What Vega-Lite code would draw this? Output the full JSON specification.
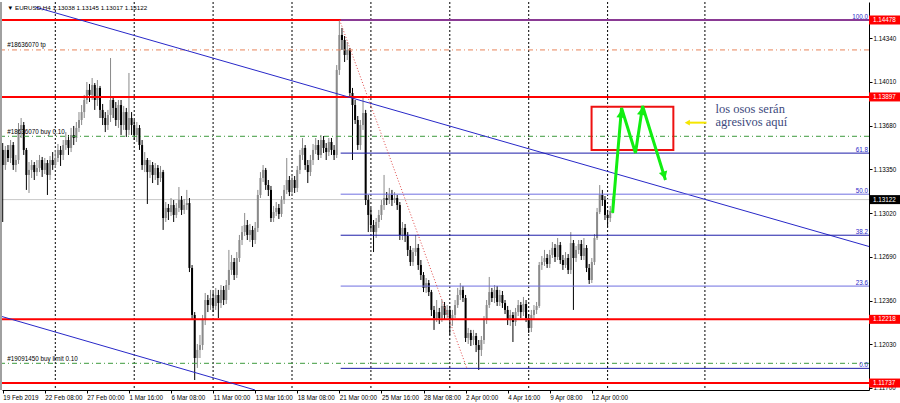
{
  "$schema": "https://vega.github.io/schema/vega-lite/v6.json",
  "width": 867,
  "height": 388,
  "autosize": {"type": "none"},
  "padding": {"left": 2, "top": 2, "right": 31, "bottom": 13},
  "background": "#ffffff",
  "config": {"view": {"stroke": null}, "font": "Liberation Sans", "axis": {"grid": false, "title": null}, "scale": {"continuousPadding": 0}},
  "datasets": {
    "candles": [
{"i":0,"o":1.13497,"h":1.13549,"l":1.12953,"c":1.13383},
{"i":1,"o":1.13383,"h":1.13527,"l":1.13346,"c":1.13497},
{"i":2,"o":1.13497,"h":1.13534,"l":1.13406,"c":1.13436},
{"i":3,"o":1.13436,"h":1.13572,"l":1.13398,"c":1.13534},
{"i":4,"o":1.13534,"h":1.13557,"l":1.13346,"c":1.13383},
{"i":5,"o":1.13383,"h":1.13459,"l":1.13330,"c":1.13421},
{"i":6,"o":1.13421,"h":1.13700,"l":1.13391,"c":1.13648},
{"i":7,"o":1.13648,"h":1.13738,"l":1.13587,"c":1.13685},
{"i":8,"o":1.13685,"h":1.13708,"l":1.13459,"c":1.13497},
{"i":9,"o":1.13497,"h":1.13512,"l":1.13195,"c":1.13308},
{"i":10,"o":1.13308,"h":1.13406,"l":1.13172,"c":1.13346},
{"i":11,"o":1.13346,"h":1.13421,"l":1.13285,"c":1.13383},
{"i":12,"o":1.13383,"h":1.13406,"l":1.13270,"c":1.13330},
{"i":13,"o":1.13330,"h":1.13421,"l":1.13300,"c":1.13361},
{"i":14,"o":1.13361,"h":1.13459,"l":1.13330,"c":1.13421},
{"i":15,"o":1.13421,"h":1.13444,"l":1.13293,"c":1.13346},
{"i":16,"o":1.13346,"h":1.13436,"l":1.13315,"c":1.13398},
{"i":17,"o":1.13398,"h":1.13421,"l":1.13157,"c":1.13308},
{"i":18,"o":1.13308,"h":1.13451,"l":1.13270,"c":1.13421},
{"i":19,"o":1.13421,"h":1.13481,"l":1.13346,"c":1.13383},
{"i":20,"o":1.13383,"h":1.13497,"l":1.13361,"c":1.13436},
{"i":21,"o":1.13436,"h":1.13542,"l":1.13406,"c":1.13497},
{"i":22,"o":1.13497,"h":1.13527,"l":1.13376,"c":1.13459},
{"i":23,"o":1.13459,"h":1.13572,"l":1.13421,"c":1.13534},
{"i":24,"o":1.13534,"h":1.13632,"l":1.13497,"c":1.13572},
{"i":25,"o":1.13572,"h":1.13610,"l":1.13459,"c":1.13512},
{"i":26,"o":1.13512,"h":1.13663,"l":1.13481,"c":1.13610},
{"i":27,"o":1.13610,"h":1.13678,"l":1.13534,"c":1.13587},
{"i":28,"o":1.13587,"h":1.13708,"l":1.13557,"c":1.13663},
{"i":29,"o":1.13663,"h":1.13783,"l":1.13632,"c":1.13723},
{"i":30,"o":1.13723,"h":1.13836,"l":1.13685,"c":1.13783},
{"i":31,"o":1.13783,"h":1.13912,"l":1.13738,"c":1.13874},
{"i":32,"o":1.13874,"h":1.14010,"l":1.13844,"c":1.13950},
{"i":33,"o":1.13950,"h":1.13995,"l":1.13859,"c":1.13912},
{"i":34,"o":1.13912,"h":1.14040,"l":1.13874,"c":1.13987},
{"i":35,"o":1.13987,"h":1.14002,"l":1.13799,"c":1.13874},
{"i":36,"o":1.13874,"h":1.14025,"l":1.13829,"c":1.13965},
{"i":37,"o":1.13965,"h":1.13980,"l":1.13738,"c":1.13799},
{"i":38,"o":1.13799,"h":1.13844,"l":1.13685,"c":1.13738},
{"i":39,"o":1.13738,"h":1.13783,"l":1.13632,"c":1.13685},
{"i":40,"o":1.13685,"h":1.13799,"l":1.13648,"c":1.13761},
{"i":41,"o":1.13761,"h":1.14191,"l":1.13708,"c":1.13874},
{"i":42,"o":1.13874,"h":1.13904,"l":1.13738,"c":1.13814},
{"i":43,"o":1.13814,"h":1.13859,"l":1.13678,"c":1.13723},
{"i":44,"o":1.13723,"h":1.13874,"l":1.13663,"c":1.13836},
{"i":45,"o":1.13836,"h":1.13874,"l":1.13610,"c":1.13685},
{"i":46,"o":1.13685,"h":1.13829,"l":1.13648,"c":1.13783},
{"i":47,"o":1.13783,"h":1.13814,"l":1.13595,"c":1.13648},
{"i":48,"o":1.13648,"h":1.14078,"l":1.13610,"c":1.13738},
{"i":49,"o":1.13738,"h":1.13783,"l":1.13610,"c":1.13685},
{"i":50,"o":1.13685,"h":1.13723,"l":1.13572,"c":1.13610},
{"i":51,"o":1.13610,"h":1.13708,"l":1.13557,"c":1.13663},
{"i":52,"o":1.13663,"h":1.13685,"l":1.13497,"c":1.13534},
{"i":53,"o":1.13534,"h":1.13572,"l":1.13346,"c":1.13383},
{"i":54,"o":1.13383,"h":1.13481,"l":1.13330,"c":1.13421},
{"i":55,"o":1.13421,"h":1.13436,"l":1.13089,"c":1.13330},
{"i":56,"o":1.13330,"h":1.13421,"l":1.13285,"c":1.13383},
{"i":57,"o":1.13383,"h":1.13406,"l":1.13247,"c":1.13308},
{"i":58,"o":1.13308,"h":1.13398,"l":1.13270,"c":1.13361},
{"i":59,"o":1.13361,"h":1.13383,"l":1.13232,"c":1.13285},
{"i":60,"o":1.13285,"h":1.13376,"l":1.13255,"c":1.13330},
{"i":61,"o":1.13330,"h":1.13346,"l":1.12893,"c":1.12983},
{"i":62,"o":1.12983,"h":1.13104,"l":1.12953,"c":1.13059},
{"i":63,"o":1.13059,"h":1.13089,"l":1.12968,"c":1.13028},
{"i":64,"o":1.13028,"h":1.13134,"l":1.12998,"c":1.13081},
{"i":65,"o":1.13081,"h":1.13119,"l":1.12953,"c":1.13006},
{"i":66,"o":1.13006,"h":1.13096,"l":1.12983,"c":1.13059},
{"i":67,"o":1.13059,"h":1.13217,"l":1.13028,"c":1.13119},
{"i":68,"o":1.13119,"h":1.13149,"l":1.13006,"c":1.13044},
{"i":69,"o":1.13044,"h":1.13127,"l":1.13013,"c":1.13081},
{"i":70,"o":1.13081,"h":1.13195,"l":1.13044,"c":1.13096},
{"i":71,"o":1.13096,"h":1.13134,"l":1.12575,"c":1.12606},
{"i":72,"o":1.12606,"h":1.12628,"l":1.12213,"c":1.12251},
{"i":73,"o":1.12251,"h":1.12273,"l":1.11760,"c":1.11926},
{"i":74,"o":1.11926,"h":1.12032,"l":1.11851,"c":1.11987},
{"i":75,"o":1.11987,"h":1.12100,"l":1.11926,"c":1.12024},
{"i":76,"o":1.12024,"h":1.12251,"l":1.11987,"c":1.12213},
{"i":77,"o":1.12213,"h":1.12417,"l":1.12175,"c":1.12364},
{"i":78,"o":1.12364,"h":1.12402,"l":1.12273,"c":1.12326},
{"i":79,"o":1.12326,"h":1.12440,"l":1.12289,"c":1.12379},
{"i":80,"o":1.12379,"h":1.12424,"l":1.12273,"c":1.12319},
{"i":81,"o":1.12319,"h":1.12455,"l":1.12289,"c":1.12402},
{"i":82,"o":1.12402,"h":1.12440,"l":1.12228,"c":1.12341},
{"i":83,"o":1.12341,"h":1.12477,"l":1.12304,"c":1.12440},
{"i":84,"o":1.12440,"h":1.12470,"l":1.12326,"c":1.12364},
{"i":85,"o":1.12364,"h":1.12515,"l":1.12334,"c":1.12477},
{"i":86,"o":1.12477,"h":1.12742,"l":1.12440,"c":1.12591},
{"i":87,"o":1.12591,"h":1.12704,"l":1.12553,"c":1.12651},
{"i":88,"o":1.12651,"h":1.12681,"l":1.12515,"c":1.12553},
{"i":89,"o":1.12553,"h":1.12726,"l":1.12530,"c":1.12681},
{"i":90,"o":1.12681,"h":1.12855,"l":1.12651,"c":1.12817},
{"i":91,"o":1.12817,"h":1.12923,"l":1.12779,"c":1.12877},
{"i":92,"o":1.12877,"h":1.13021,"l":1.12847,"c":1.12930},
{"i":93,"o":1.12930,"h":1.12968,"l":1.12817,"c":1.12855},
{"i":94,"o":1.12855,"h":1.12938,"l":1.12802,"c":1.12893},
{"i":95,"o":1.12893,"h":1.12923,"l":1.12764,"c":1.12817},
{"i":96,"o":1.12817,"h":1.12953,"l":1.12787,"c":1.12908},
{"i":97,"o":1.12908,"h":1.13195,"l":1.12877,"c":1.13157},
{"i":98,"o":1.13157,"h":1.13330,"l":1.13134,"c":1.13285},
{"i":99,"o":1.13285,"h":1.13383,"l":1.13255,"c":1.13346},
{"i":100,"o":1.13346,"h":1.13361,"l":1.13195,"c":1.13232},
{"i":101,"o":1.13232,"h":1.13270,"l":1.13149,"c":1.13195},
{"i":102,"o":1.13195,"h":1.13225,"l":1.12953,"c":1.12983},
{"i":103,"o":1.12983,"h":1.13074,"l":1.12953,"c":1.13028},
{"i":104,"o":1.13028,"h":1.13104,"l":1.12998,"c":1.13059},
{"i":105,"o":1.13059,"h":1.13089,"l":1.12976,"c":1.13013},
{"i":106,"o":1.13013,"h":1.13149,"l":1.12991,"c":1.13119},
{"i":107,"o":1.13119,"h":1.13232,"l":1.13089,"c":1.13195},
{"i":108,"o":1.13195,"h":1.13436,"l":1.13164,"c":1.13270},
{"i":109,"o":1.13270,"h":1.13300,"l":1.13149,"c":1.13179},
{"i":110,"o":1.13179,"h":1.13308,"l":1.13149,"c":1.13270},
{"i":111,"o":1.13270,"h":1.13300,"l":1.13172,"c":1.13210},
{"i":112,"o":1.13210,"h":1.13376,"l":1.13179,"c":1.13346},
{"i":113,"o":1.13346,"h":1.13497,"l":1.13315,"c":1.13459},
{"i":114,"o":1.13459,"h":1.13587,"l":1.13421,"c":1.13512},
{"i":115,"o":1.13512,"h":1.13534,"l":1.13346,"c":1.13383},
{"i":116,"o":1.13383,"h":1.13421,"l":1.13247,"c":1.13330},
{"i":117,"o":1.13330,"h":1.13459,"l":1.13300,"c":1.13421},
{"i":118,"o":1.13421,"h":1.13542,"l":1.13383,"c":1.13497},
{"i":119,"o":1.13497,"h":1.13587,"l":1.13466,"c":1.13534},
{"i":120,"o":1.13534,"h":1.13572,"l":1.13421,"c":1.13459},
{"i":121,"o":1.13459,"h":1.13610,"l":1.13436,"c":1.13572},
{"i":122,"o":1.13572,"h":1.13602,"l":1.13474,"c":1.13512},
{"i":123,"o":1.13512,"h":1.13549,"l":1.13421,"c":1.13481},
{"i":124,"o":1.13481,"h":1.13587,"l":1.13451,"c":1.13557},
{"i":125,"o":1.13557,"h":1.13587,"l":1.13459,"c":1.13497},
{"i":126,"o":1.13497,"h":1.13534,"l":1.13421,"c":1.13459},
{"i":127,"o":1.13459,"h":1.14138,"l":1.13436,"c":1.14101},
{"i":128,"o":1.14101,"h":1.14478,"l":1.14063,"c":1.14365},
{"i":129,"o":1.14365,"h":1.14418,"l":1.14252,"c":1.14327},
{"i":130,"o":1.14327,"h":1.14357,"l":1.14161,"c":1.14214},
{"i":131,"o":1.14214,"h":1.14312,"l":1.14176,"c":1.14252},
{"i":132,"o":1.14252,"h":1.14267,"l":1.13889,"c":1.13927},
{"i":133,"o":1.13927,"h":1.13965,"l":1.13421,"c":1.13836},
{"i":134,"o":1.13836,"h":1.13874,"l":1.13693,"c":1.13723},
{"i":135,"o":1.13723,"h":1.13753,"l":1.13497,"c":1.13534},
{"i":136,"o":1.13534,"h":1.13723,"l":1.13497,"c":1.13685},
{"i":137,"o":1.13685,"h":1.13889,"l":1.13648,"c":1.13776},
{"i":138,"o":1.13776,"h":1.13799,"l":1.13081,"c":1.13119},
{"i":139,"o":1.13119,"h":1.13157,"l":1.12877,"c":1.13006},
{"i":140,"o":1.13006,"h":1.13059,"l":1.12893,"c":1.12930},
{"i":141,"o":1.12930,"h":1.12968,"l":1.12726,"c":1.12877},
{"i":142,"o":1.12877,"h":1.12983,"l":1.12832,"c":1.12953},
{"i":143,"o":1.12953,"h":1.13044,"l":1.12908,"c":1.13006},
{"i":144,"o":1.13006,"h":1.13119,"l":1.12968,"c":1.13081},
{"i":145,"o":1.13081,"h":1.13308,"l":1.13044,"c":1.13134},
{"i":146,"o":1.13134,"h":1.13179,"l":1.13081,"c":1.13119},
{"i":147,"o":1.13119,"h":1.13210,"l":1.13089,"c":1.13157},
{"i":148,"o":1.13157,"h":1.13195,"l":1.13074,"c":1.13119},
{"i":149,"o":1.13119,"h":1.13179,"l":1.13096,"c":1.13134},
{"i":150,"o":1.13134,"h":1.13157,"l":1.13044,"c":1.13081},
{"i":151,"o":1.13081,"h":1.13104,"l":1.12817,"c":1.12855},
{"i":152,"o":1.12855,"h":1.12953,"l":1.12817,"c":1.12908},
{"i":153,"o":1.12908,"h":1.12938,"l":1.12802,"c":1.12847},
{"i":154,"o":1.12847,"h":1.12877,"l":1.12696,"c":1.12742},
{"i":155,"o":1.12742,"h":1.12772,"l":1.12621,"c":1.12651},
{"i":156,"o":1.12651,"h":1.12757,"l":1.12621,"c":1.12726},
{"i":157,"o":1.12726,"h":1.12855,"l":1.12696,"c":1.12757},
{"i":158,"o":1.12757,"h":1.12787,"l":1.12591,"c":1.12628},
{"i":159,"o":1.12628,"h":1.12666,"l":1.12515,"c":1.12553},
{"i":160,"o":1.12553,"h":1.12575,"l":1.12424,"c":1.12455},
{"i":161,"o":1.12455,"h":1.12530,"l":1.12417,"c":1.12492},
{"i":162,"o":1.12492,"h":1.12515,"l":1.12394,"c":1.12424},
{"i":163,"o":1.12424,"h":1.12440,"l":1.12243,"c":1.12289},
{"i":164,"o":1.12289,"h":1.12319,"l":1.12138,"c":1.12228},
{"i":165,"o":1.12228,"h":1.12364,"l":1.12198,"c":1.12273},
{"i":166,"o":1.12273,"h":1.12304,"l":1.12183,"c":1.12228},
{"i":167,"o":1.12228,"h":1.12364,"l":1.12198,"c":1.12319},
{"i":168,"o":1.12319,"h":1.12349,"l":1.12213,"c":1.12251},
{"i":169,"o":1.12251,"h":1.12326,"l":1.12228,"c":1.12289},
{"i":170,"o":1.12289,"h":1.12319,"l":1.12100,"c":1.12213},
{"i":171,"o":1.12213,"h":1.12289,"l":1.12168,"c":1.12251},
{"i":172,"o":1.12251,"h":1.12364,"l":1.12228,"c":1.12326},
{"i":173,"o":1.12326,"h":1.12455,"l":1.12304,"c":1.12402},
{"i":174,"o":1.12402,"h":1.12492,"l":1.12364,"c":1.12440},
{"i":175,"o":1.12440,"h":1.12470,"l":1.12349,"c":1.12379},
{"i":176,"o":1.12379,"h":1.12402,"l":1.12047,"c":1.12077},
{"i":177,"o":1.12077,"h":1.12153,"l":1.12032,"c":1.12115},
{"i":178,"o":1.12115,"h":1.12138,"l":1.12017,"c":1.12062},
{"i":179,"o":1.12062,"h":1.12138,"l":1.12024,"c":1.12092},
{"i":180,"o":1.12092,"h":1.12115,"l":1.11971,"c":1.12024},
{"i":181,"o":1.12024,"h":1.12062,"l":1.11836,"c":1.11987},
{"i":182,"o":1.11987,"h":1.12092,"l":1.11941,"c":1.12062},
{"i":183,"o":1.12062,"h":1.12243,"l":1.12032,"c":1.12213},
{"i":184,"o":1.12213,"h":1.12364,"l":1.12183,"c":1.12326},
{"i":185,"o":1.12326,"h":1.12538,"l":1.12304,"c":1.12424},
{"i":186,"o":1.12424,"h":1.12455,"l":1.12349,"c":1.12379},
{"i":187,"o":1.12379,"h":1.12477,"l":1.12341,"c":1.12440},
{"i":188,"o":1.12440,"h":1.12470,"l":1.12319,"c":1.12349},
{"i":189,"o":1.12349,"h":1.12440,"l":1.12319,"c":1.12402},
{"i":190,"o":1.12402,"h":1.12432,"l":1.12304,"c":1.12341},
{"i":191,"o":1.12341,"h":1.12364,"l":1.12258,"c":1.12289},
{"i":192,"o":1.12289,"h":1.12319,"l":1.12175,"c":1.12213},
{"i":193,"o":1.12213,"h":1.12289,"l":1.12168,"c":1.12251},
{"i":194,"o":1.12251,"h":1.12273,"l":1.12047,"c":1.12198},
{"i":195,"o":1.12198,"h":1.12304,"l":1.12168,"c":1.12273},
{"i":196,"o":1.12273,"h":1.12364,"l":1.12243,"c":1.12326},
{"i":197,"o":1.12326,"h":1.12349,"l":1.12228,"c":1.12273},
{"i":198,"o":1.12273,"h":1.12387,"l":1.12243,"c":1.12334},
{"i":199,"o":1.12334,"h":1.12364,"l":1.12198,"c":1.12228},
{"i":200,"o":1.12228,"h":1.12258,"l":1.12115,"c":1.12153},
{"i":201,"o":1.12153,"h":1.12289,"l":1.12122,"c":1.12251},
{"i":202,"o":1.12251,"h":1.12326,"l":1.12213,"c":1.12289},
{"i":203,"o":1.12289,"h":1.12349,"l":1.12258,"c":1.12319},
{"i":204,"o":1.12319,"h":1.12651,"l":1.12304,"c":1.12628},
{"i":205,"o":1.12628,"h":1.12696,"l":1.12591,"c":1.12651},
{"i":206,"o":1.12651,"h":1.12742,"l":1.12621,"c":1.12681},
{"i":207,"o":1.12681,"h":1.12711,"l":1.12606,"c":1.12636},
{"i":208,"o":1.12636,"h":1.12742,"l":1.12606,"c":1.12704},
{"i":209,"o":1.12704,"h":1.12802,"l":1.12681,"c":1.12757},
{"i":210,"o":1.12757,"h":1.12787,"l":1.12651,"c":1.12689},
{"i":211,"o":1.12689,"h":1.12832,"l":1.12666,"c":1.12779},
{"i":212,"o":1.12779,"h":1.12802,"l":1.12636,"c":1.12666},
{"i":213,"o":1.12666,"h":1.12704,"l":1.12591,"c":1.12628},
{"i":214,"o":1.12628,"h":1.12726,"l":1.12606,"c":1.12681},
{"i":215,"o":1.12681,"h":1.12711,"l":1.12560,"c":1.12591},
{"i":216,"o":1.12591,"h":1.12877,"l":1.12560,"c":1.12794},
{"i":217,"o":1.12794,"h":1.12817,"l":1.12289,"c":1.12681},
{"i":218,"o":1.12681,"h":1.12772,"l":1.12651,"c":1.12742},
{"i":219,"o":1.12742,"h":1.12817,"l":1.12711,"c":1.12787},
{"i":220,"o":1.12787,"h":1.12817,"l":1.12666,"c":1.12696},
{"i":221,"o":1.12696,"h":1.12832,"l":1.12666,"c":1.12757},
{"i":222,"o":1.12757,"h":1.12779,"l":1.12575,"c":1.12606},
{"i":223,"o":1.12606,"h":1.12636,"l":1.12485,"c":1.12515},
{"i":224,"o":1.12515,"h":1.12681,"l":1.12492,"c":1.12651},
{"i":225,"o":1.12651,"h":1.12862,"l":1.12628,"c":1.12832},
{"i":226,"o":1.12832,"h":1.13059,"l":1.12817,"c":1.13028},
{"i":227,"o":1.13028,"h":1.13232,"l":1.13013,"c":1.13157},
{"i":228,"o":1.13157,"h":1.13195,"l":1.13074,"c":1.13119},
{"i":229,"o":1.13119,"h":1.13149,"l":1.12968,"c":1.13006},
{"i":230,"o":1.13006,"h":1.13044,"l":1.12915,"c":1.12983},
{"i":231,"o":1.12983,"h":1.13074,"l":1.12953,"c":1.13036},
{"i":232,"o":1.13038,"h":1.13145,"l":1.13017,"c":1.13122}
    ],
    "seps": [{"i":20},{"i":50},{"i":80},{"i":110},{"i":140},{"i":170},{"i":200},{"i":230},{"i":267}],
    "redLevels": [{"p":1.14478},{"p":1.13897},{"p":1.12218},{"p":1.11737}],
    "orders": [
      {"p":1.14252,"kind":"tp","label":"#18636070 tp","lp":1.14274},
      {"p":1.13600,"kind":"buy","label":"#18636070 buy 0.10","lp":1.13617},
      {"p":1.11886,"kind":"limit","label":"#19091450 buy limit 0.10","lp":1.11900}
    ],
    "fib": [
      {"p":1.13473,"lvl":"61.8"},{"p":1.13163,"lvl":"50.0"},{"p":1.12853,"lvl":"38.2"},{"p":1.12469,"lvl":"23.6"},{"p":1.11848,"lvl":"0.0"}
    ],
    "fibLabels": [
      {"p":1.14478,"lvl":"100.0"},{"p":1.13473,"lvl":"61.8"},{"p":1.13163,"lvl":"50.0"},{"p":1.12853,"lvl":"38.2"},{"p":1.12469,"lvl":"23.6"},{"p":1.11848,"lvl":"0.0"}
    ],
    "upper": [{"b":12.5,"p":1.14575},{"b":329.39,"p":1.12768}],
    "lower": [{"b":-0.27,"p":1.12239},{"b":95.9,"p":1.11685}],
    "fibDiag": [{"b":128.1,"p":1.14478},{"b":176.5,"p":1.11848}],
    "zone": [{"b1":223.9,"b2":255.0,"p1":1.13823,"p2":1.13497}],
    "arrow": [
      {"b":231.9,"p":1.13021},{"b":235.3,"p":1.13814},{"b":240.6,"p":1.13474},{"b":243.3,"p":1.13829},{"b":252.0,"p":1.13270}
    ],
    "boxes": [
      {"p":1.14478,"t":"1.14478","bid":false},{"p":1.13897,"t":"1.13897","bid":false},{"p":1.13122,"t":"1.13122","bid":true},{"p":1.12218,"t":"1.12218","bid":false},{"p":1.11737,"t":"1.11737","bid":false}
    ]
  },
  "layer": [
    {
      "data": {"name": "seps"},
      "mark": {"type": "rule", "color": "#000000", "strokeWidth": 1, "strokeDash": [2, 2]},
      "encoding": {
        "x": {"field": "i", "type": "quantitative", "title": null,
          "scale": {"domain": [-0.27, 329.39], "nice": false, "zero": false, "padding": 0},
          "axis": {"orient": "bottom", "values": [0,16,32,48,64,80,96,112,128,144,160,176,192,208,224],
            "labelExpr": "['19 Feb 2019','22 Feb 08:00','27 Feb 00:00','1 Mar 16:00','6 Mar 08:00','11 Mar 00:00','13 Mar 16:00','18 Mar 08:00','21 Mar 00:00','25 Mar 16:00','28 Mar 08:00','2 Apr 00:00','4 Apr 16:00','9 Apr 08:00','12 Apr 00:00'][round(datum.value/16)]",
            "labelAlign": "left", "labelBaseline": "top", "labelFontSize": 6.3, "labelColor": "#000000", "labelPadding": 1, "labelDx": 1,
            "labelFlush": false, "labelOverlap": false, "labelBound": false,
            "tickSize": 3, "tickColor": "#000000", "domainColor": "#000000", "domainWidth": 1}}
      }
    },
    {
      "data": {"values": [{"p": 1.13122}]},
      "mark": {"type": "rule", "color": "#c8c8c8", "strokeWidth": 1},
      "encoding": {
        "y": {"field": "p", "type": "quantitative", "title": null,
          "scale": {"domain": [1.116845, 1.146139], "nice": false, "zero": false, "padding": 0},
          "axis": {"orient": "right", "values": [1.117,1.11865,1.1203,1.12195,1.1236,1.12525,1.1269,1.12855,1.1302,1.13185,1.1335,1.13515,1.1368,1.13845,1.1401,1.14175,1.1434,1.14505],
            "format": ".5f", "labelFontSize": 6.3, "labelColor": "#000000", "labelPadding": 1, "labelBaseline": "middle",
            "labelFlush": false, "labelOverlap": false, "labelBound": false,
            "tickSize": 3, "tickColor": "#000000", "domainColor": "#000000", "domainWidth": 1}}
      }
    },
    {
      "data": {"name": "candles"},
      "mark": {"type": "rule", "strokeWidth": 1},
      "encoding": {
        "x": {"field": "i", "type": "quantitative", "title": null},
        "y": {"field": "l", "type": "quantitative", "title": null},
        "y2": {"field": "h"},
        "color": {"condition": {"test": "datum.c >= datum.o", "value": "#8a8a8a"}, "value": "#000000"}
      }
    },
    {
      "data": {"name": "candles"},
      "mark": {"type": "bar", "size": 2},
      "encoding": {
        "x": {"field": "i", "type": "quantitative", "title": null},
        "y": {"field": "o", "type": "quantitative", "title": null},
        "y2": {"field": "c"},
        "color": {"condition": {"test": "datum.c >= datum.o", "value": "#8a8a8a"}, "value": "#000000"}
      }
    },
    {
      "data": {"name": "redLevels"},
      "mark": {"type": "rule", "color": "#ff0000", "strokeWidth": 2},
      "encoding": {"y": {"field": "p", "type": "quantitative", "title": null}}
    },
    {
      "data": {"name": "orders"},
      "mark": {"type": "rule", "strokeWidth": 1, "strokeDash": [5, 3, 1, 3]},
      "encoding": {
        "y": {"field": "p", "type": "quantitative", "title": null},
        "color": {"condition": {"test": "datum.kind == 'tp'", "value": "#e8845a"}, "value": "#3c9a3c"}
      }
    },
    {
      "data": {"name": "orders"},
      "mark": {"type": "text", "align": "left", "baseline": "alphabetic", "fontSize": 6.3, "color": "#000000"},
      "encoding": {
        "x": {"datum": 1.74},
        "y": {"field": "lp", "type": "quantitative", "title": null},
        "text": {"field": "label"}
      }
    },
    {
      "data": {"name": "upper"},
      "mark": {"type": "line", "color": "#2828c8", "strokeWidth": 1, "clip": true},
      "encoding": {"x": {"field": "b", "type": "quantitative", "title": null}, "y": {"field": "p", "type": "quantitative", "title": null}}
    },
    {
      "data": {"name": "lower"},
      "mark": {"type": "line", "color": "#2828c8", "strokeWidth": 1, "clip": true},
      "encoding": {"x": {"field": "b", "type": "quantitative", "title": null}, "y": {"field": "p", "type": "quantitative", "title": null}}
    },
    {
      "data": {"name": "fib"},
      "mark": {"type": "rule", "strokeWidth": 1},
      "encoding": {
        "x": {"datum": 128.5}, "x2": {"datum": 329.39},
        "y": {"field": "p", "type": "quantitative", "title": null},
        "color": {"condition": {"test": "datum.lvl == '50.0' || datum.lvl == '23.6'", "value": "#6f6fe0"}, "value": "#1c1ca8"}
      }
    },
    {
      "data": {"values": [{"p": 1.14478}]},
      "mark": {"type": "rule", "strokeWidth": 2, "color": "#8a3a94"},
      "encoding": {"x": {"datum": 128.5}, "x2": {"datum": 329.39}, "y": {"field": "p", "type": "quantitative", "title": null}}
    },
    {
      "data": {"name": "fibLabels"},
      "mark": {"type": "text", "align": "right", "baseline": "alphabetic", "fontSize": 6.3, "dx": -1, "dy": -1.5, "color": "#2a2ac8"},
      "encoding": {"x": {"datum": 329.39}, "y": {"field": "p", "type": "quantitative", "title": null}, "text": {"field": "lvl"}}
    },
    {
      "data": {"name": "fibDiag"},
      "mark": {"type": "line", "color": "#e04848", "strokeWidth": 1, "strokeDash": [1, 2]},
      "encoding": {"x": {"field": "b", "type": "quantitative", "title": null}, "y": {"field": "p", "type": "quantitative", "title": null}}
    },
    {
      "data": {"name": "zone"},
      "mark": {"type": "rect", "fill": null, "fillOpacity": 0, "stroke": "#ee1111", "strokeWidth": 2},
      "encoding": {
        "x": {"field": "b1", "type": "quantitative", "title": null}, "x2": {"field": "b2"},
        "y": {"field": "p1", "type": "quantitative", "title": null}, "y2": {"field": "p2"}
      }
    },
    {
      "data": {"name": "arrow"},
      "mark": {"type": "line", "color": "#11ee11", "strokeWidth": 3, "strokeJoin": "miter"},
      "encoding": {"x": {"field": "b", "type": "quantitative", "title": null}, "y": {"field": "p", "type": "quantitative", "title": null}}
    },
    {
      "data": {"values": [{"b": 235.1, "p": 1.13770}]},
      "mark": {"type": "point", "shape": "triangle-up", "filled": true, "size": 75, "angle": 5, "color": "#11ee11", "opacity": 1},
      "encoding": {"x": {"field": "b", "type": "quantitative", "title": null}, "y": {"field": "p", "type": "quantitative", "title": null}}
    },
    {
      "data": {"values": [{"b": 243.0, "p": 1.13790}]},
      "mark": {"type": "point", "shape": "triangle-up", "filled": true, "size": 75, "angle": 8, "color": "#11ee11", "opacity": 1},
      "encoding": {"x": {"field": "b", "type": "quantitative", "title": null}, "y": {"field": "p", "type": "quantitative", "title": null}}
    },
    {
      "data": {"values": [{"b": 251.5, "p": 1.13305}]},
      "mark": {"type": "point", "shape": "triangle-up", "filled": true, "size": 75, "angle": 163, "color": "#11ee11", "opacity": 1},
      "encoding": {"x": {"field": "b", "type": "quantitative", "title": null}, "y": {"field": "p", "type": "quantitative", "title": null}}
    },
    {
      "data": {"values": [{"b": 260.5, "p": 1.13703}, {"b": 267.6, "p": 1.13703}]},
      "mark": {"type": "line", "color": "#f5e600", "strokeWidth": 2},
      "encoding": {"x": {"field": "b", "type": "quantitative", "title": null}, "y": {"field": "p", "type": "quantitative", "title": null}}
    },
    {
      "data": {"values": [{"b": 260.3, "p": 1.13703}]},
      "mark": {"type": "point", "shape": "triangle-left", "filled": true, "size": 35, "color": "#f5e600", "opacity": 1},
      "encoding": {"x": {"field": "b", "type": "quantitative", "title": null}, "y": {"field": "p", "type": "quantitative", "title": null}}
    },
    {
      "data": {"values": [{"b": 271.0, "p": 1.13776, "t": "los osos serán"}, {"b": 271.0, "p": 1.13678, "t": "agresivos aquí"}]},
      "mark": {"type": "text", "align": "left", "baseline": "alphabetic", "font": "Liberation Serif", "fontSize": 12.5, "color": "#3d4a7d"},
      "encoding": {"x": {"field": "b", "type": "quantitative", "title": null}, "y": {"field": "p", "type": "quantitative", "title": null}, "text": {"field": "t"}}
    },
    {
      "data": {"values": [{"b": 1.7, "p": 1.14557, "t": "▼ EURUSD,H4  1.13038 1.13145 1.13017 1.13122"}]},
      "mark": {"type": "text", "align": "left", "baseline": "alphabetic", "fontSize": 6.2, "color": "#000000"},
      "encoding": {"x": {"field": "b", "type": "quantitative", "title": null}, "y": {"field": "p", "type": "quantitative", "title": null}, "text": {"field": "t"}}
    },
    {
      "data": {"name": "boxes"},
      "mark": {"type": "bar", "size": 9},
      "encoding": {
        "x": {"datum": 329.39}, "x2": {"datum": 341.3},
        "y": {"field": "p", "type": "quantitative", "title": null},
        "color": {"condition": {"test": "datum.bid", "value": "#000000"}, "value": "#ff0000"}
      }
    },
    {
      "data": {"name": "boxes"},
      "mark": {"type": "text", "align": "left", "baseline": "middle", "fontSize": 6.3, "dx": 4, "color": "#ffffff"},
      "encoding": {"x": {"datum": 329.39}, "y": {"field": "p", "type": "quantitative", "title": null}, "text": {"field": "t"}}
    },
    {
      "data": {"values": [{}]},
      "mark": {"type": "rule", "color": "#a0a0a0", "strokeWidth": 2},
      "encoding": {"x": {"datum": -0.65}}
    }
  ]
}
